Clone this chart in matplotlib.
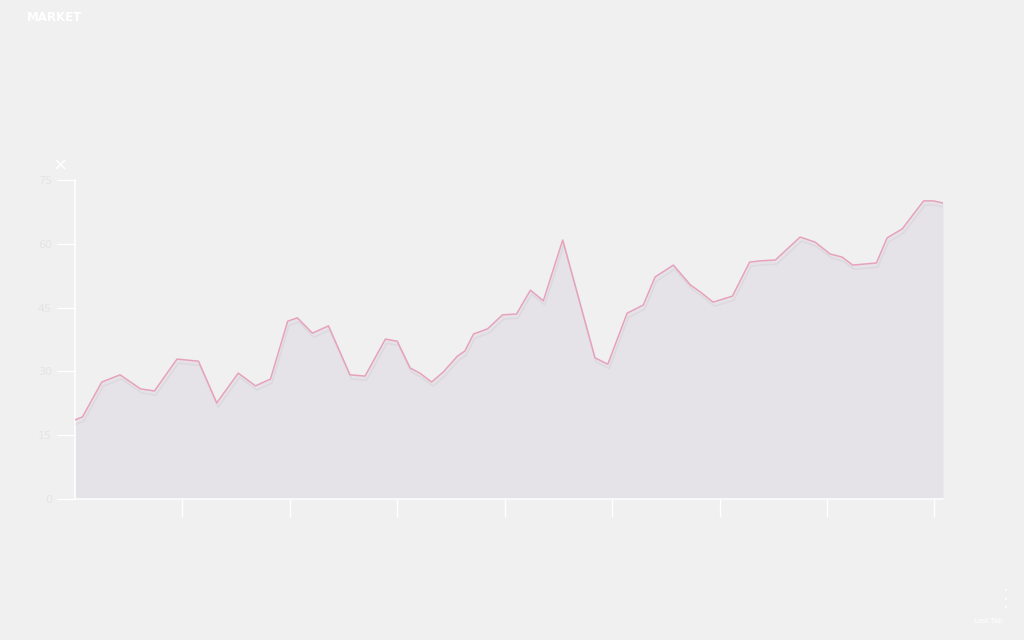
import numpy as np
import matplotlib.pyplot as plt
import matplotlib.patheffects as pe

# readings (x in tick units, y in axis units)
x_vals = [0.00, 0.07, 0.25, 0.42, 0.61, 0.74, 0.95, 1.15, 1.32, 1.52, 1.68, 1.82,
          1.98, 2.07, 2.21, 2.36, 2.56, 2.70, 2.89, 3.00, 3.12, 3.21, 3.32, 3.43,
          3.56, 3.63, 3.71, 3.84, 3.98, 4.11, 4.24, 4.36, 4.54, 4.84, 4.96, 5.14,
          5.29, 5.40, 5.57, 5.73, 5.82, 5.94, 6.12, 6.28, 6.38, 6.52, 6.75, 6.89,
          7.03, 7.14, 7.24, 7.46, 7.56, 7.70, 7.90, 7.99, 8.08]
y_vals = [18.6, 19.3, 27.5, 29.2, 25.9, 25.4, 32.9, 32.4, 22.6, 29.6, 26.6, 28.2,
          41.8, 42.6, 39.0, 40.7, 29.2, 28.9, 37.6, 37.1, 30.8, 29.6, 27.5, 29.9,
          33.6, 34.8, 38.8, 40.0, 43.3, 43.5, 49.1, 46.6, 60.9, 33.2, 31.7, 43.7,
          45.6, 52.2, 55.0, 50.3, 48.7, 46.3, 47.7, 55.7, 56.0, 56.2, 61.6,
          60.4, 57.6, 56.9, 55.0, 55.5, 61.4, 63.5, 70.1, 70.1, 69.6]
y_ticks = [0, 15, 30, 45, 60, 75]
y_labels = ["0", "15", "30", "45", "60", "75"]
x_ticks = [1, 2, 3, 4, 5, 6, 7, 8]

bg = "#f0f0f0"
fig = plt.figure(figsize=(10.24, 6.4), dpi=100, facecolor=bg)
ax = fig.add_axes([0.0732, 0.2203, 0.8477, 0.4984])
ax.set_facecolor(bg)

ax.fill_between(x_vals, y_vals, 0, color="#e6e3e8", lw=0, zorder=1)
ax.plot(x_vals, y_vals, color="#e6a2bb", lw=1.1, zorder=3,
        path_effects=[pe.SimpleLineShadow(offset=(1, -3), shadow_color="#bdb9c2", alpha=0.25),
                      pe.Normal()])

ax.set_xlim(0, 8.08)
ax.set_ylim(0, 75)
ax.set_xticks(x_ticks)
ax.set_xticklabels([])
ax.set_yticks(y_ticks)
ax.set_yticklabels(y_labels)

for s in ["top", "right"]:
    ax.spines[s].set_visible(False)
for s in ["left", "bottom"]:
    ax.spines[s].set_color("white")
    ax.spines[s].set_linewidth(1.1)
ax.tick_params(axis="both", colors="white", width=1.0, length=13, labelsize=8,
               labelcolor="#e4e4e4")

fig.text(0.026, 0.972, "MARKET", color="white", fontsize=8.5, fontweight="bold",
         va="center")
fig.text(0.059, 0.742, "×", color="white", fontsize=13, ha="center", va="center")
fig.text(0.965, 0.03, "Last Tab", color="white", fontsize=5, ha="center", va="center")
for yy in [0.076, 0.063, 0.05]:
    fig.text(0.982, yy, "•", color="white", fontsize=5, ha="center", va="center")

fig.savefig("out.png", dpi=100, facecolor=bg)
